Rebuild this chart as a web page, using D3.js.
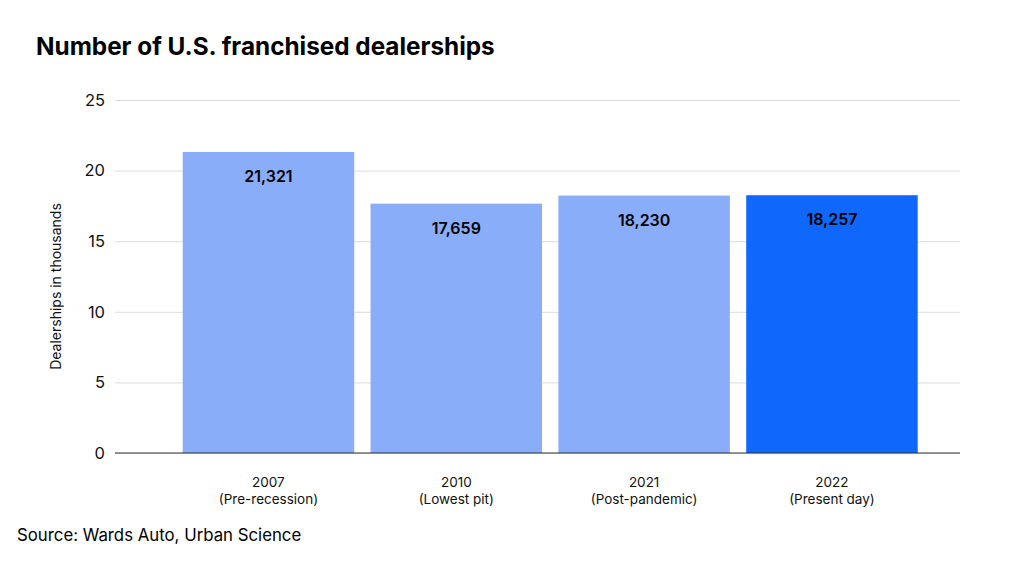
<!DOCTYPE html>
<html>
<head>
<meta charset="utf-8">
<script src="https://cdn.jsdelivr.net/npm/d3@7"></script>
<style>
  body { margin: 0; background: #fff; }
  text { font-family: Inter, "Liberation Sans", sans-serif; }
</style>
</head>
<body>
<script>
/* DATA */
const years = ["2007", "2010", "2021", "2022"];
const periods = ["(Pre-recession)", "(Lowest pit)", "(Post-pandemic)", "(Present day)"];
const dealers = [21321, 17659, 18230, 18257];
const yTicks = [0, 5, 10, 15, 20, 25];

const width = 1024, height = 565;

const svg = d3.select("body").append("svg")
  .attr("width", width)
  .attr("height", height);

// scales
const x = d3.scaleBand()
  .domain(years)
  .range([182.7, 917.7])
  .paddingInner(0.087)
  .paddingOuter(0);

const y = d3.scaleLinear()
  .domain([0, 25])
  .range([453, 100]);

// title
svg.append("text")
  .attr("x", 36).attr("y", 55)
  .attr("font-size", 24.3)
  .attr("font-weight", 700)
  .attr("fill", "#000")
  .text("Number of U.S. franchised dealerships");

// gridlines + y tick labels
const yAxis = d3.axisLeft(y)
  .tickValues(yTicks)
  .tickSize(-(960 - 115))
  .tickPadding(10);

const gy = svg.append("g")
  .attr("transform", "translate(115,0)")
  .call(yAxis);
gy.select(".domain").remove();
gy.selectAll(".tick line").attr("stroke", "#dcdcdc").attr("stroke-width", 1);
gy.selectAll(".tick text")
  .attr("font-size", 16.5)
  .attr("fill", "#111")
  .attr("font-family", "Inter, 'Liberation Sans', sans-serif");

// y axis title
svg.append("text")
  .attr("transform", "translate(61,286.5) rotate(-90)")
  .attr("text-anchor", "middle")
  .attr("font-size", 14)
  .attr("fill", "#111")
  .text("Dealerships in thousands");

// bars
svg.selectAll("rect.bar")
  .data(dealers)
  .join("rect")
  .attr("class", "bar")
  .attr("x", (d, i) => x(years[i]))
  .attr("width", x.bandwidth())
  .attr("y", d => y(d / 1000))
  .attr("height", d => y(0) - y(d / 1000))
  .attr("fill", (d, i) => i === years.length - 1 ? "#0f67fb" : "#8aadfa");

// value labels
svg.selectAll("text.val")
  .data(dealers)
  .join("text")
  .attr("class", "val")
  .attr("x", (d, i) => x(years[i]) + x.bandwidth() / 2)
  .attr("y", d => y(d / 1000) + 30)
  .attr("text-anchor", "middle")
  .attr("font-size", 16)
  .attr("font-weight", 600)
  .attr("fill", "#000")
  .text(d => d3.format(",")(d));

// baseline
svg.append("line")
  .attr("x1", 115).attr("x2", 960)
  .attr("y1", y(0)).attr("y2", y(0))
  .attr("stroke", "#333").attr("stroke-width", 1.2);

// x labels
const xl = svg.selectAll("g.xlab")
  .data(years)
  .join("g")
  .attr("class", "xlab")
  .attr("transform", d => `translate(${x(d) + x.bandwidth() / 2},0)`);

xl.append("text")
  .attr("y", 487)
  .attr("text-anchor", "middle")
  .attr("font-size", 13.5)
  .attr("fill", "#111")
  .text(d => d);

xl.append("text")
  .attr("y", 504)
  .attr("text-anchor", "middle")
  .attr("font-size", 13.5)
  .attr("fill", "#111")
  .text((d, i) => periods[i]);

// source
svg.append("text")
  .attr("x", 17).attr("y", 541)
  .attr("font-size", 16.8)
  .attr("fill", "#000")
  .text("Source: Wards Auto, Urban Science");
</script>
</body>
</html>
